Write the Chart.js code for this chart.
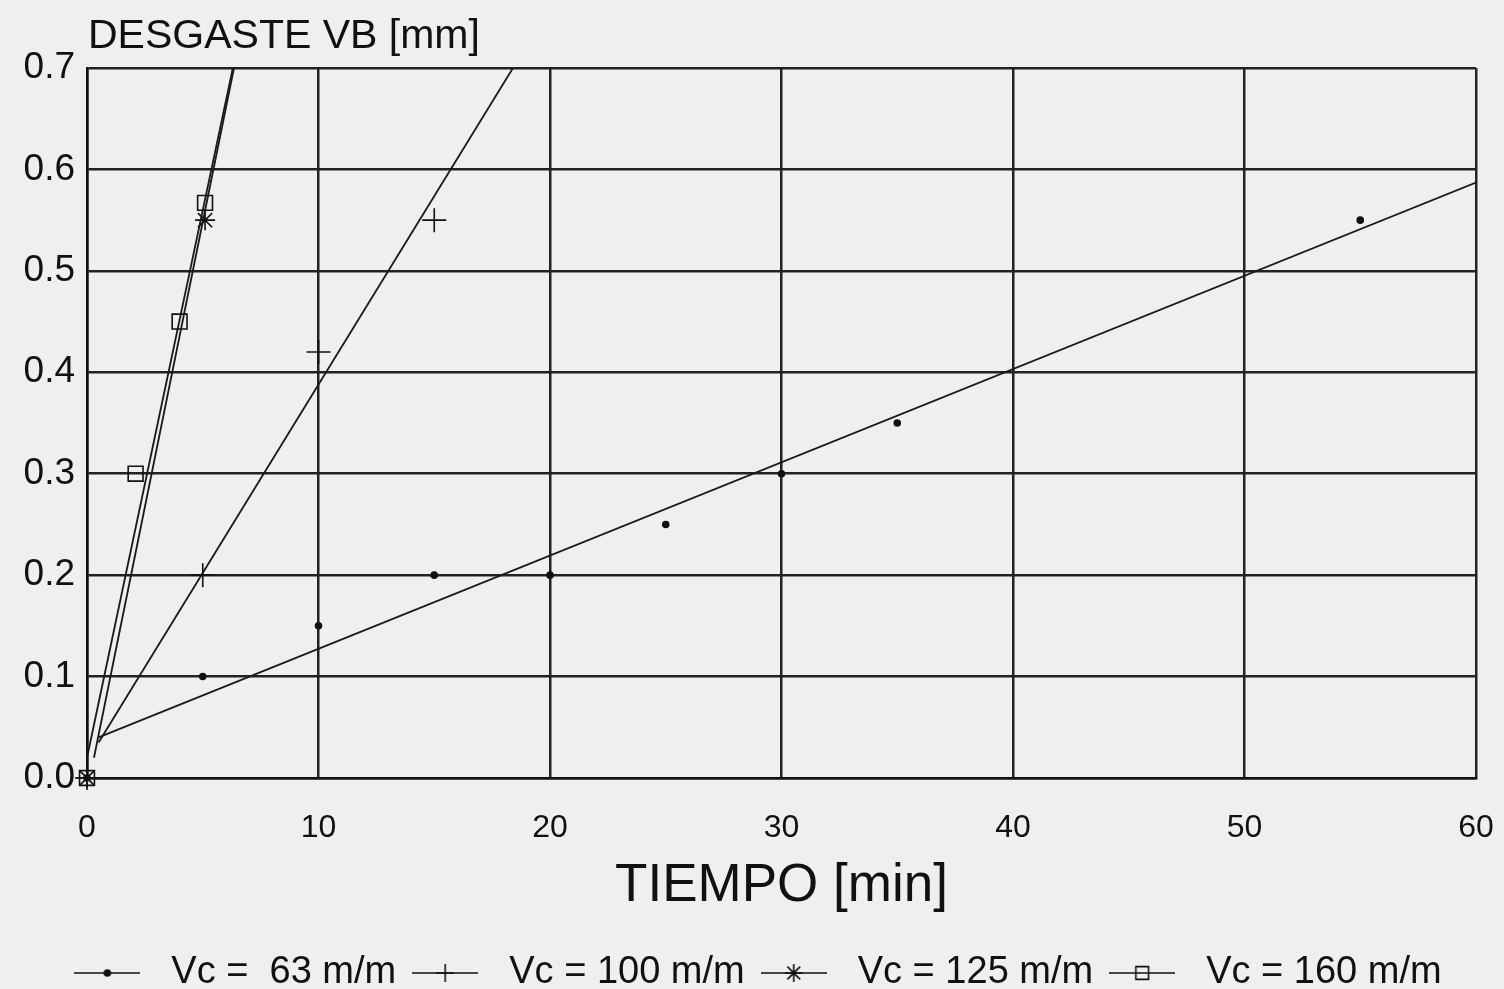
<!DOCTYPE html>
<html>
<head>
<meta charset="utf-8">
<script src="https://cdn.jsdelivr.net/npm/chart.js@4.4.1/dist/chart.umd.min.js"></script>
<style>
    html, body { margin: 0; padding: 0; background: #efefef; }
    #wrap { width: 1504px; height: 989px; }
</style>
</head>
<body>
<div id="wrap"><canvas id="grafico"></canvas></div>
<script>
// valores
var tiempo63 = [0, 5, 10, 15, 20, 25, 30, 35, 55];
var desgaste63 = [0, 0.1, 0.15, 0.2, 0.2, 0.25, 0.3, 0.35, 0.55];
var tiempo100 = [0, 5, 10, 15];
var desgaste100 = [0, 0.2, 0.42, 0.55];
var tiempo125 = [0, 5.1];
var desgaste125 = [0, 0.55];
var tiempo160 = [0, 2.1, 4, 5.1];
var desgaste160 = [0, 0.3, 0.45, 0.567];

// rectas de ajuste (extremos)
var ajusteT63 = [0.5, 60];
var ajusteV63 = [0.04, 0.587];
var ajusteT100 = [0.5, 18.4];
var ajusteV100 = [0.035, 0.7];
var ajusteT125 = [0.3, 6.35];
var ajusteV125 = [0.02, 0.7];
var ajusteT160 = [0, 6.3];
var ajusteV160 = [0.02, 0.7];

var etiquetas = ['Vc =  63 m/m', 'Vc = 100 m/m', 'Vc = 125 m/m', 'Vc = 160 m/m'];
var simbolos = ['circle', 'cross', 'star', 'rect'];
var tamanos = [3, 12, 10, 10.5];

var ticksX = [0, 10, 20, 30, 40, 50, 60];
var ticksY = [0, 0.1, 0.2, 0.3, 0.4, 0.5, 0.6, 0.7];

function puntos(xs, ys) {
    var res = [];
    for (var i = 0; i < xs.length; i++) {
        res.push({ x: xs[i], y: ys[i] });
    }
    return res;
}

// muestra de linea + simbolo para la leyenda
function muestra(tipo, radio, relleno) {
    var c = document.createElement('canvas');
    c.width = 66;
    c.height = 26;
    var g = c.getContext('2d');
    g.strokeStyle = '#111';
    g.lineWidth = 1.6;
    g.beginPath();
    g.moveTo(0, 13);
    g.lineTo(66, 13);
    g.stroke();
    g.fillStyle = relleno ? '#111' : 'rgba(0,0,0,0)';
    Chart.helpers.drawPoint(g, { pointStyle: tipo, radius: Math.min(radio, 9), borderWidth: 1.6 }, 33, 13);
    return c;
}

var series = [
    { t: tiempo63, v: desgaste63, at: ajusteT63, av: ajusteV63 },
    { t: tiempo100, v: desgaste100, at: ajusteT100, av: ajusteV100 },
    { t: tiempo125, v: desgaste125, at: ajusteT125, av: ajusteV125 },
    { t: tiempo160, v: desgaste160, at: ajusteT160, av: ajusteV160 }
];

var datasets = [];
series.forEach(function(s, i) {
    datasets.push({
        label: etiquetas[i],
        data: puntos(s.t, s.v),
        showLine: false,
        clip: false,
        pointStyle: simbolos[i],
        pointRadius: tamanos[i],
        pointBorderWidth: 1.6,
        pointBorderColor: '#111',
        pointBackgroundColor: i == 0 ? '#111' : 'rgba(0,0,0,0)',
        legendImg: muestra(simbolos[i], tamanos[i], i == 0)
    });
    datasets.push({
        label: 'ajuste',
        data: puntos(s.at, s.av),
        showLine: true,
        pointRadius: 0,
        borderColor: '#1a1a1a',
        borderWidth: 1.8,
        fill: false
    });
});

var fuente = "'Liberation Sans', Arial, sans-serif";

var fondo = {
    id: 'fondo',
    beforeDraw: function(chart) {
        var ctx = chart.ctx;
        ctx.save();
        ctx.fillStyle = '#efefef';
        ctx.fillRect(0, 0, chart.width, chart.height);
        ctx.restore();
    },
    afterDraw: function(chart) {
        var ctx = chart.ctx;
        ctx.save();
        ctx.fillStyle = '#111';
        ctx.font = "41px " + fuente;
        ctx.textAlign = 'left';
        ctx.textBaseline = 'alphabetic';
        ctx.fillText('DESGASTE VB [mm]', chart.chartArea.left + 1, 48);
        ctx.restore();
    }
};

var ctx = document.getElementById('grafico').getContext('2d');
var grafico = new Chart(ctx, {
    type: 'scatter',
    data: { datasets: datasets },
    options: {
        responsive: true,
        maintainAspectRatio: false,
        animation: false,
        layout: { padding: { top: 68, right: 0, left: 0, bottom: -13 } },
        plugins: {
            tooltip: { enabled: false },
            legend: {
                position: 'bottom',
                labels: {
                    usePointStyle: true,
                    pointStyleWidth: 90,
                    padding: 4,
                    color: '#111',
                    font: { family: fuente, size: 38 },
                    filter: function(item) { return item.text != 'ajuste'; },
                    generateLabels: function(chart) {
                        return chart.data.datasets.map(function(d, i) {
                            return {
                                text: d.label,
                                datasetIndex: i,
                                pointStyle: d.legendImg,
                                fillStyle: 'rgba(0,0,0,0)',
                                strokeStyle: 'rgba(0,0,0,0)',
                                lineWidth: 0,
                                fontColor: '#111'
                            };
                        });
                    }
                }
            }
        },
        scales: {
            x: {
                type: 'linear',
                min: 0,
                max: 60,
                afterBuildTicks: function(scale) {
                    scale.ticks = ticksX.map(function(v) { return { value: v }; });
                },
                afterFit: function(scale) {
                    scale.height = 172;
                    scale.paddingLeft = 0;
                    scale.paddingRight = 28;
                },
                grid: { color: '#222', lineWidth: 2.5, drawTicks: false },
                border: { color: '#111', width: 2.5 },
                ticks: {
                    color: '#111',
                    padding: 31,
                    maxRotation: 0,
                    font: { family: fuente, size: 32 }
                },
                title: {
                    display: true,
                    text: 'TIEMPO [min]',
                    color: '#111',
                    padding: { top: 4, bottom: 32 },
                    font: { family: fuente, size: 53 }
                }
            },
            y: {
                type: 'linear',
                min: 0,
                max: 0.7,
                afterBuildTicks: function(scale) {
                    scale.ticks = ticksY.map(function(v) { return { value: v }; });
                },
                afterFit: function(scale) { scale.width = 87; },
                grid: { color: '#222', lineWidth: 2.5, drawTicks: false },
                border: { color: '#111', width: 2.5 },
                ticks: {
                    color: '#111',
                    padding: 12,
                    font: { family: fuente, size: 37 },
                    callback: function(v) { return v.toFixed(1); }
                }
            }
        }
    },
    plugins: [fondo]
});
</script>
</body>
</html>
